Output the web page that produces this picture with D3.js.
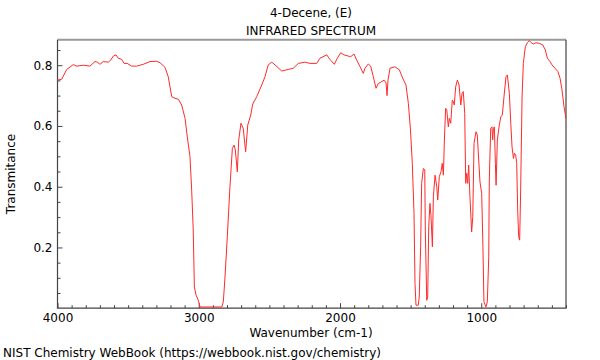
<!DOCTYPE html>
<html>
<head>
<meta charset="utf-8">
<script src="https://cdn.jsdelivr.net/npm/d3@7"></script>
<style>
body{margin:0;background:#fff;}
text{font-family:"DejaVu Sans",sans-serif;fill:#000;}
</style>
</head>
<body>
<svg id="chart" width="600" height="360"></svg>
<script>
const titleLines = ["4-Decene, (E)", "INFRARED SPECTRUM"];
const xLabel = "Wavenumber (cm-1)";
const yLabel = "Transmitance";
const footer = "NIST Chemistry WebBook (https://webbook.nist.gov/chemistry)";
const xTicks = [4000, 3000, 2000, 1000];
const yTicks = [0.2, 0.4, 0.6, 0.8];

const wavenumber = [4000,3970,3935,3888,3864,3817,3770,3735,3718,3699,3676,3640,3623,3605,3586,3570,3545,3529,3506,3475,3439,3393,3345,3298,3274,3239,3216,3191,3168,3145,3121,3097,3081,3062,3050,3039,3031,3019,3003,2991,2837,2826,2814,2798,2779,2762,2750,2741,2727,2717,2701,2685,2668,2653,2632,2618,2590,2554,2531,2508,2483,2460,2413,2366,2331,2295,2248,2212,2165,2142,2094,2071,2040,2019,1995,1972,1941,1924,1901,1882,1858,1835,1823,1800,1783,1764,1745,1729,1712,1688,1674,1667,1660,1646,1611,1580,1554,1533,1516,1501,1488,1476,1469,1462,1446,1439,1429,1422,1410,1400,1396,1386,1379,1372,1363,1356,1346,1339,1327,1315,1308,1297,1285,1276,1268,1261,1252,1244,1233,1226,1216,1205,1198,1191,1181,1169,1157,1145,1136,1127,1117,1110,1103,1096,1089,1080,1068,1060,1051,1037,1028,1018,1009,997,988,981,967,957,947,943,933,924,919,914,907,900,895,886,874,862,851,839,825,815,801,791,782,772,765,756,749,742,735,728,721,711,702,688,674,660,646,631,612,589,565,546,532,513,499,478,457,442,428,414,400];
const transmittance = [0.751,0.754,0.786,0.802,0.797,0.800,0.797,0.812,0.810,0.803,0.812,0.810,0.817,0.830,0.834,0.823,0.819,0.806,0.806,0.797,0.797,0.803,0.812,0.813,0.808,0.793,0.762,0.696,0.691,0.688,0.669,0.625,0.564,0.499,0.389,0.257,0.070,0.043,0.026,0.004,0.004,0.021,0.103,0.235,0.400,0.526,0.537,0.521,0.449,0.554,0.609,0.592,0.515,0.603,0.636,0.672,0.696,0.735,0.762,0.801,0.810,0.801,0.781,0.786,0.790,0.806,0.810,0.806,0.806,0.823,0.834,0.819,0.803,0.823,0.841,0.834,0.830,0.828,0.837,0.817,0.795,0.773,0.790,0.804,0.797,0.762,0.724,0.740,0.744,0.751,0.742,0.700,0.751,0.790,0.795,0.785,0.755,0.735,0.674,0.587,0.477,0.312,0.081,0.010,0.010,0.037,0.202,0.411,0.460,0.455,0.257,0.026,0.037,0.268,0.345,0.306,0.202,0.367,0.438,0.400,0.356,0.433,0.449,0.477,0.438,0.554,0.658,0.652,0.597,0.625,0.609,0.685,0.680,0.669,0.729,0.751,0.735,0.669,0.707,0.713,0.641,0.411,0.444,0.411,0.471,0.367,0.251,0.301,0.543,0.581,0.570,0.488,0.416,0.378,0.202,0.021,0.004,0.021,0.169,0.422,0.592,0.597,0.554,0.592,0.597,0.477,0.405,0.554,0.597,0.630,0.636,0.696,0.762,0.768,0.707,0.609,0.531,0.493,0.510,0.504,0.477,0.323,0.235,0.224,0.389,0.696,0.806,0.861,0.874,0.881,0.874,0.870,0.874,0.872,0.867,0.850,0.823,0.812,0.801,0.790,0.779,0.757,0.718,0.663,0.625];

const svg = d3.select("#chart");
const L = 57.5, R = 566, T = 39.7, B = 308.2;
const x = d3.scaleLinear().domain([4000, 400]).range([L, R]);
const y = d3.scaleLinear().domain([0, 0.884]).range([B, T]);

// minor ticks
const xMinor = d3.range(400, 4001, 100).filter(v => v % 1000 !== 0);
const yMinor = [0.05, 0.1, 0.15, 0.25, 0.3, 0.35, 0.45, 0.5, 0.55, 0.65, 0.7, 0.75, 0.85];

const gx = svg.append("g").attr("transform", `translate(0,${B})`);
gx.call(d3.axisBottom(x).tickValues(xMinor).tickSize(-3).tickFormat(""));
gx.select(".domain").remove();
const gx2 = svg.append("g").attr("transform", `translate(0,${B})`)
  .call(d3.axisBottom(x).tickValues(xTicks).tickSize(-5).tickPadding(5).tickFormat(d3.format("d")));
gx2.select(".domain").remove();
gx2.selectAll("text").attr("font-size", 12).attr("font-family", "DejaVu Sans");

const gy = svg.append("g").attr("transform", `translate(${L},0)`);
gy.call(d3.axisLeft(y).tickValues(yMinor).tickSize(-3).tickFormat(""));
gy.select(".domain").remove();
const gy2 = svg.append("g").attr("transform", `translate(${L},0)`)
  .call(d3.axisLeft(y).tickValues(yTicks).tickSize(-5).tickPadding(5).tickFormat(d3.format(".1f")));
gy2.select(".domain").remove();
gy2.selectAll("text").attr("font-size", 12).attr("font-family", "DejaVu Sans");

svg.selectAll(".tick line").attr("stroke", "#444");

// frame
svg.append("line").attr("x1", L).attr("x2", R).attr("y1", T).attr("y2", T).attr("stroke", "#999").attr("stroke-width", 2);
svg.append("path").attr("d", `M${L},${T}V${B}H${R}V${T}`).attr("fill", "none").attr("stroke", "#444").attr("stroke-width", 1.2);

// spectrum
const data = wavenumber.map((w, i) => [w, transmittance[i]]);
svg.append("path").datum(data)
  .attr("fill", "none").attr("stroke", "#ff2a2a").attr("stroke-width", 1)
  .attr("d", d3.line().x(d => x(d[0])).y(d => y(d[1])));

// titles
svg.append("text").attr("x", 311).attr("y", 17).attr("text-anchor", "middle").attr("font-size", 12).text(titleLines[0]);
svg.append("text").attr("x", 311).attr("y", 35).attr("text-anchor", "middle").attr("font-size", 12).text(titleLines[1]);
svg.append("text").attr("x", 311).attr("y", 337).attr("text-anchor", "middle").attr("font-size", 12).text(xLabel);
svg.append("text").attr("transform", "translate(15,174) rotate(-90)").attr("text-anchor", "middle").attr("font-size", 12).text(yLabel);
svg.append("text").attr("x", 3).attr("y", 357).attr("font-size", 12).text(footer);
</script>
</body>
</html>
